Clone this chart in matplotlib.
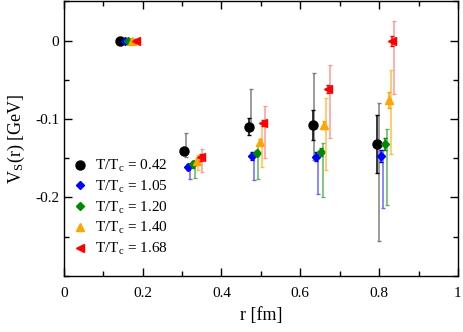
import matplotlib
matplotlib.use('Agg')
import matplotlib.pyplot as plt
from matplotlib.ticker import MultipleLocator

plt.rcParams['font.family'] = ['Liberation Serif', 'DejaVu Serif']
plt.rcParams['mathtext.fontset'] = 'stix'

labels = ['0.42', '1.05', '1.20', '1.40', '1.68']
colors = ['black', '#0000ff', '#008a00', '#ffa500', '#ff0000']
light_colors = ['#808080', '#6a6aff', '#5fb85f', '#ffc04a', '#ff9a9a']
markers = ['o', 'D', 'D', '^', '<']
msizes = [6.5, 4.5, 4.5, 6, 6]

# r [fm] for each T/Tc (points are shifted slightly for visibility)
r_042 = [0.142, 0.305, 0.470, 0.631, 0.794]
r_105 = [0.155, 0.316, 0.478, 0.640, 0.805]
r_120 = [0.162, 0.327, 0.489, 0.652, 0.815]
r_140 = [0.173, 0.337, 0.498, 0.661, 0.825]
r_168 = [0.183, 0.347, 0.506, 0.671, 0.833]

# V_S(r) [GeV]
v_042 = [0.0, -0.141, -0.110, -0.108, -0.132]
v_105 = [0.0, -0.161, -0.147, -0.148, -0.147]
v_120 = [0.0, -0.158, -0.143, -0.142, -0.132]
v_140 = [0.0, -0.154, -0.129, -0.108, -0.076]
v_168 = [0.0, -0.149, -0.105, -0.062, -0.001]

# statistical errors (symmetric)
stat_042 = [0.002, 0.004, 0.011, 0.019, 0.037]
stat_105 = [0.002, 0.004, 0.0055, 0.0055, 0.008]
stat_120 = [0.002, 0.004, 0.004, 0.005, 0.008]
stat_140 = [0.002, 0.004, 0.004, 0.005, 0.010]
stat_168 = [0.002, 0.005, 0.004, 0.005, 0.0065]

# systematic errors (upper, lower)
sys_up_042 = [0.002, 0.023, 0.048, 0.066, 0.053]
sys_dn_042 = [0.002, 0.008, 0.004, 0.044, 0.124]
sys_up_105 = [0.002, 0.003, 0.0055, 0.0035, 0.0075]
sys_dn_105 = [0.002, 0.016, 0.031, 0.048, 0.066]
sys_up_120 = [0.002, 0.006, 0.0096, 0.0115, 0.019]
sys_dn_120 = [0.002, 0.017, 0.034, 0.058, 0.077]
sys_up_140 = [0.002, 0.0085, 0.0235, 0.035, 0.038]
sys_dn_140 = [0.002, 0.0115, 0.032, 0.0565, 0.069]
sys_up_168 = [0.002, 0.011, 0.022, 0.0305, 0.0255]
sys_dn_168 = [0.002, 0.019, 0.0446, 0.062, 0.067]

rs = [r_042, r_105, r_120, r_140, r_168]
vs = [v_042, v_105, v_120, v_140, v_168]
stats = [stat_042, stat_105, stat_120, stat_140, stat_168]
sys_up = [sys_up_042, sys_up_105, sys_up_120, sys_up_140, sys_up_168]
sys_dn = [sys_dn_042, sys_dn_105, sys_dn_120, sys_dn_140, sys_dn_168]

fig = plt.figure(figsize=(4.63, 3.32), dpi=100)
ax = fig.add_axes([0.138, 0.169, 0.851, 0.827])

shift = 0.0045
for i in range(5):
    r_sys = [r + shift for r in rs[i]]
    ax.errorbar(r_sys, vs[i], yerr=[sys_dn[i], sys_up[i]], fmt='none',
                ecolor=light_colors[i], elinewidth=1.1, capsize=1.5, capthick=1)
    ax.errorbar(rs[i], vs[i], yerr=stats[i], fmt='none',
                ecolor=colors[i], elinewidth=1.1, capsize=1.5, capthick=1)
    ax.plot(rs[i], vs[i], linestyle='none', marker=markers[i],
            markersize=msizes[i], color=colors[i],
            label='T/T$_\\mathregular{c}$ = ' + labels[i])

ax.set_xlim(0, 1)
ax.set_ylim(-0.3, 0.05)
ax.xaxis.set_major_locator(MultipleLocator(0.2))
ax.xaxis.set_minor_locator(MultipleLocator(0.1))
ax.yaxis.set_major_locator(MultipleLocator(0.1))
ax.yaxis.set_minor_locator(MultipleLocator(0.05))
ax.set_xticks([0, 0.2, 0.4, 0.6, 0.8, 1.0])
ax.set_xticklabels(['0', '0.2', '0.4', '0.6', '0.8', '1'])
ax.set_yticks([0, -0.1, -0.2])
ax.set_yticklabels(['0', '-0.1', '-0.2'])
ax.tick_params(which='both', direction='in', top=True, right=True, labelsize=11)
ax.tick_params(which='major', length=6, width=1)
ax.tick_params(which='minor', length=3.5, width=1)
ax.tick_params(axis='x', pad=8)
for sp in ax.spines.values():
    sp.set_linewidth(1)

ax.set_xlabel('r [fm]', fontsize=13, labelpad=5)
ax.set_ylabel('V$_\\mathregular{S}$(r) [GeV]', fontsize=13, labelpad=6)

ax.legend(loc='lower left', frameon=False, fontsize=11, handletextpad=0.4,
          labelspacing=0.3, borderaxespad=0.3, handlelength=1.2,
          bbox_to_anchor=(-0.01, 0.03))

fig.savefig('out.png', dpi=100)
